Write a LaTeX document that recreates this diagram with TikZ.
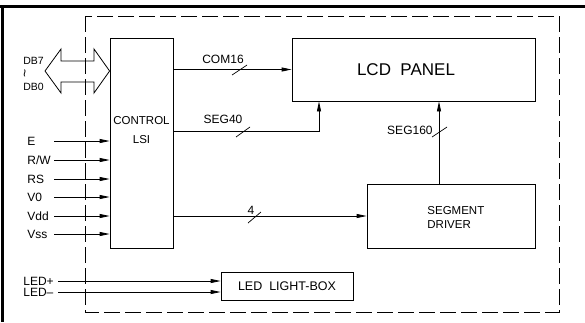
\documentclass[tikz,border=0pt]{standalone}
\usepackage{fontspec}
\setmainfont{Liberation Sans}
\usetikzlibrary{arrows.meta}
\begin{document}
\begin{tikzpicture}[x=1pt,y=-1pt,
  line width=0.8pt,
  box/.style={draw, line width=0.8pt, inner sep=0pt},
  lbl/.style={inner sep=0pt, font=\fontsize{12}{14}\selectfont},
  dbl/.style={inner sep=0pt, font=\fontsize{10.5}{12}\selectfont},
  big/.style={inner sep=0pt, font=\fontsize{11.5}{13}\selectfont},
  sig/.style={inner sep=0pt, font=\fontsize{12}{14}\selectfont},
  arr/.style={-{Triangle[length=10pt,width=4pt]}},
  sl/.style={line width=0.7pt},
  frame/.style={line width=3pt},
  dashbox/.style={draw, line width=0.8pt, dash pattern=on 16pt off 5pt}
]
\useasboundingbox (0,0) rectangle (585,322);
% outer frame
\draw[frame] (0,6) -- (585,6);
\draw[frame] (2,5) -- (2,322);
% dashed module outline
\draw[dashbox] (85,16) rectangle (559,312);

% boxes
\node[box, minimum width=63pt, minimum height=210pt] (lsi) at (141.5,143) {};
\node[box, minimum width=243pt, minimum height=63pt] (lcd) at (413.5,69.5) {};
\node[box, minimum width=168pt, minimum height=64pt] (drv) at (451,216) {};
\node[box, minimum width=132pt, minimum height=28pt] (led) at (287,286) {};

% box texts
\node[big] (t1) at (141.5,121) {CONTROL};
\node[big] (t2) at (141.5,140) {LSI};
\node[inner sep=0pt, font=\fontsize{17}{19}\selectfont] (t3) at (406,70) {LCD\ \ PANEL};
\node[big, anchor=west] (t4) at (427,211) {SEGMENT};
\node[big, anchor=west] (t5) at (427,225) {DRIVER};
\node[inner sep=0pt, font=\fontsize{12.5}{14}\selectfont] (t6) at (287,286) {LED\ \ LIGHT-BOX};

% data bus double arrow
\coordinate (dbc) at (45,71);
\draw (dbc) -- (61,49) -- (61,61) -- (94,61) -- (94,49) -- (lsi.west |- dbc)
  -- (94,93) -- (94,82) -- (61,82) -- (61,93) -- cycle;
\node[dbl, anchor=west] (db7) at (23,61) {DB7};
\node[inner sep=0pt, font=\fontsize{14}{15}\selectfont, rotate=90] (tl) at (26.5,73.5) {\textasciitilde};
\node[dbl, anchor=west] (db0) at (23,87) {DB0};

% input signals
\foreach \n/\t/\y in {e/E/141, rw/R\slash W/160, rs/RS/179, vo/V0/197, vdd/Vdd/216, vss/Vss/234}{
  \node[lbl, anchor=west] (l\n) at (27,\y) {\t};
  \coordinate (s\n) at (54,\y);
  \draw[arr] (s\n) -- (lsi.west |- s\n);
}

% LED inputs
\node[lbl, anchor=west] (lledp) at (23,281) {LED+};
\node[lbl, anchor=west] (lledm) at (23,292) {LED\textendash};
\coordinate (sledp) at (58,281);
\coordinate (sledm) at (58,292);
\draw[arr] (sledp) -- (led.west |- sledp);
\draw[arr] (sledm) -- (led.west |- sledm);

% COM16
\draw[arr] (lsi.east |- lcd.west) -- (lcd.west);
\draw[sl] (232,75) -- (247,65);
\node[sig] (lcom) at (223,59) {COM16};

% SEG40
\coordinate (s40a) at (173,131);
\coordinate (s40b) at (319,131);
\draw[arr] (lsi.east |- s40a) -- (s40b) -- (s40b |- lcd.south);
\draw[sl] (236,137) -- (250,127);
\node[sig] (lseg40) at (223,119) {SEG40};

% 4
\draw[arr] (lsi.east |- drv.west) -- (drv.west);
\draw[sl] (248,223) -- (261,212);
\node[sig] (lfour) at (251,210) {4};

% SEG160
\coordinate (s160) at (439,184);
\draw[arr] (s160 |- drv.north) -- (s160 |- lcd.south);
\draw[sl] (432,137) -- (447,127);
\node[sig, anchor=east] (lseg160) at (433,130) {SEG160};
\end{tikzpicture}
\end{document}
